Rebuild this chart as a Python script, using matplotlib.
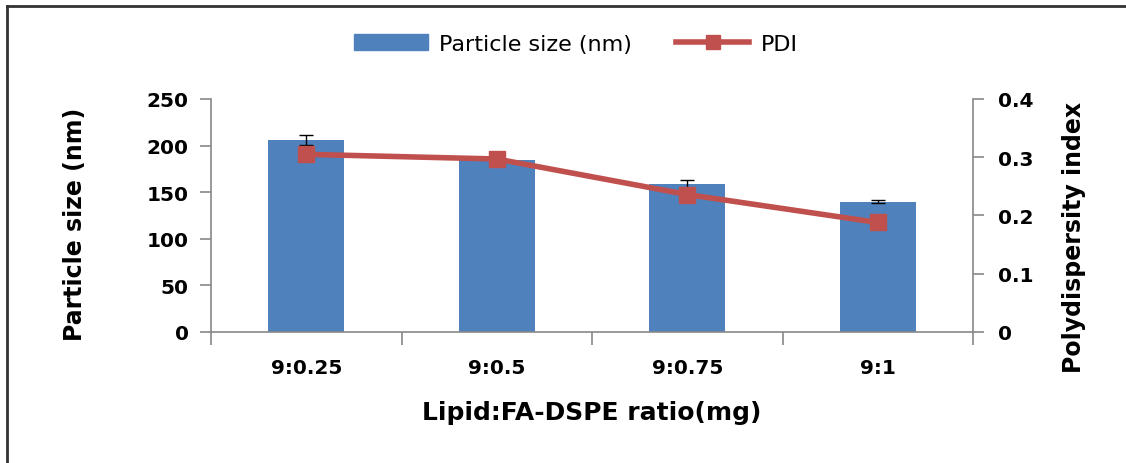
import matplotlib.pyplot as plt
import numpy as np
from matplotlib.lines import Line2D

plt.rcParams['font.family'] = ['DejaVu Sans']

ratios = ['9:0.25', '9:0.5', '9:0.75', '9:1']
particle_size = [206, 185, 159, 140]
size_err = [5, 0, 4, 2]
pdi = [0.305, 0.297, 0.236, 0.188]

bar_color = '#4f81bd'
line_color = '#c0504d'
axis_color = '#888888'

fig = plt.figure(figsize=(11.26, 4.64), dpi=100)
ax = fig.add_axes([211 / 1126, 1 - 333 / 464, (973 - 211) / 1126, 233 / 464])
ax2 = ax.twinx()

x = np.arange(len(ratios))
ax.bar(x, particle_size, width=0.4, color=bar_color, zorder=2)
has_err = [i for i, e in enumerate(size_err) if e > 0]
ax.errorbar(x[has_err], [particle_size[i] for i in has_err],
            yerr=[size_err[i] for i in has_err], fmt='none', ecolor='black',
            elinewidth=1, capsize=5, capthick=1, zorder=3)
ax2.plot(x, pdi, color=line_color, lw=4, marker='s', ms=12, zorder=4)

ax.set_xlim(-0.5, len(ratios) - 0.5)
ax.set_ylim(0, 250)
ax.set_yticks(range(0, 251, 50))
ax2.set_ylim(0, 0.4)
ax2.set_yticks([0, 0.1, 0.2, 0.3, 0.4])
ax2.set_yticklabels(['0', '0.1', '0.2', '0.3', '0.4'])

ax.set_xticks(x)
ax.set_xticklabels(ratios)
ax.set_xticks(np.arange(-0.5, len(ratios), 1), minor=True)
ax.tick_params(axis='x', which='major', length=0, pad=19)
ax.tick_params(axis='x', which='minor', length=9, color=axis_color, width=1.2)

for a in (ax, ax2):
    for s in a.spines.values():
        s.set_visible(False)
ax.spines['left'].set_visible(True)
ax.spines['bottom'].set_visible(True)
ax2.spines['right'].set_visible(True)
for s in (ax.spines['left'], ax.spines['bottom'], ax2.spines['right']):
    s.set_color(axis_color)
    s.set_linewidth(1.2)

ax.tick_params(axis='y', length=8, color=axis_color, width=1.2, pad=8)
ax2.tick_params(axis='y', length=8, color=axis_color, width=1.2, pad=10)
for lab in ax.get_xticklabels() + ax.get_yticklabels() + ax2.get_yticklabels():
    lab.set_fontsize(14.5)
    lab.set_fontweight('bold')

ax.set_ylabel('Particle size (nm)', fontsize=17, fontweight='bold')
ax.yaxis.set_label_coords(-0.163, 0.465)
ax2.set_ylabel('Polydispersity index', fontsize=17, fontweight='bold')
ax2.yaxis.set_label_coords(1.117, 0.41)
ax.set_xlabel('Lipid:FA-DSPE ratio(mg)', fontsize=18, fontweight='bold')
ax.xaxis.set_label_coords(0.5, -0.29)

handles = [plt.Rectangle((0, 0), 1, 1, color=bar_color),
           Line2D([0], [0], color=line_color, lw=4, marker='s', ms=10)]
fig.legend(handles, ['Particle size (nm)', 'PDI'], loc='center',
           bbox_to_anchor=(576 / 1126, 1 - 45 / 464), ncol=2, frameon=False,
           fontsize=16, handlelength=3.3, handletextpad=0.5, columnspacing=2.0)

# outer chart border (top and left edges visible)
fig.add_artist(Line2D([7 / 1126, 1], [1 - 7 / 464, 1 - 7 / 464], color='#333333', lw=2))
fig.add_artist(Line2D([7 / 1126, 7 / 1126], [0, 1 - 7 / 464], color='#333333', lw=2))

fig.savefig('out.png', dpi=100)
